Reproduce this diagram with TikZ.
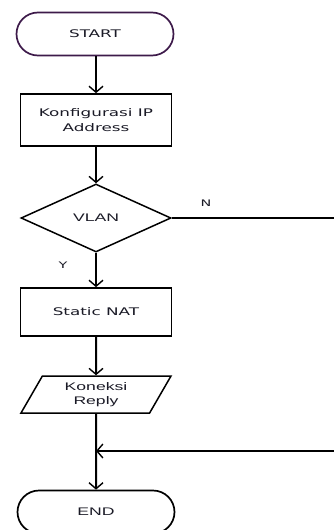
\documentclass[tikz,border=0pt]{standalone}
\usepackage{fontspec}
\setmainfont{DejaVu Sans}
\newfontfamily\arialfont{Liberation Sans}
\usepackage{tikz}
\usetikzlibrary{arrows.meta}
\usetikzlibrary{shapes.misc}
\usetikzlibrary{shapes.geometric}
\definecolor{fc-text}{HTML}{1A1A26}
\definecolor{fc-purple}{HTML}{3D1A4A}
\newcommand{\wide}[1]{\scalebox{1.6}[1]{#1}}

\begin{document}
\begin{tikzpicture}[x=1pt, y=-1pt,
    >={Straight Barb[length=6pt, width=14pt, line width=1.4pt]},
    term/.style={rounded rectangle, draw, line width=1.7pt, inner sep=0pt,
        minimum width=157pt, minimum height=43pt, text=fc-text,
        font=\fontsize{10.5}{12}\selectfont},
    procbox/.style={rectangle, draw, line width=1.7pt, inner sep=0pt,
        minimum width=151pt, text=fc-text, align=center,
        font=\fontsize{10.5}{15}\selectfont},
    decision/.style={diamond, draw, line width=1.5pt, inner sep=0pt,
        minimum width=150pt, minimum height=68pt, text=fc-text,
        font=\arialfont\fontsize{11}{13}\selectfont},
    io/.style={trapezium, trapezium left angle=48, trapezium right angle=132,
        trapezium stretches body, draw, line width=1.5pt, inner sep=0pt,
        minimum width=150pt, minimum height=37pt, text=fc-text, align=center,
        font=\arialfont\fontsize{11}{13.5}\selectfont},
    flow/.style={->, line width=2pt},
    thinflow/.style={line width=1.1pt},
    lbl/.style={text=fc-text, font=\fontsize{9}{10}\selectfont}]

    % Bingkai gambar
    \useasboundingbox (0,0) rectangle (334,530);

    % Simbol-simbol alur
    \node[term, draw=fc-purple] (start) at (95,34) {\wide{START}};
    \node[procbox, minimum height=52pt] (konfig) at (96,120) {\wide{Konfigurasi IP}\\\wide{Address}};
    \node[decision] (vlan) at (96,218) {\wide{VLAN}};
    \node[procbox, minimum height=48pt] (nat) at (96,312) {\wide{Static NAT}};
    \node[io] (reply) at (96,394.5) {\wide{Koneksi}\\\wide{Reply}};
    \node[term, font=\arialfont\fontsize{11}{13}\selectfont] (end) at (96,512) {\wide{END}};

    % Titik bantu di tepi kanan
    \coordinate (kanan-n) at (334,218);
    \coordinate (kanan-r) at (334,451);
    \coordinate (gabung) at (96,451);

    % Garis alur
    \draw[flow] (start.south -| konfig.north) -- (konfig.north);
    \draw[flow] (konfig) -- (vlan);
    \draw[flow] (vlan) -- (nat);
    \draw[flow] (nat) -- (reply);
    \draw[flow] (reply) -- (end);
    \draw[thinflow] (vlan.east) -- (kanan-n);
    \draw[thinflow, ->] (kanan-r) -- (gabung);

    % Label cabang
    \node[lbl] (lbl-n) at (206,203) {\wide{N}};
    \node[lbl] (lbl-y) at (63,265) {\wide{Y}};

\end{tikzpicture}
\end{document}
